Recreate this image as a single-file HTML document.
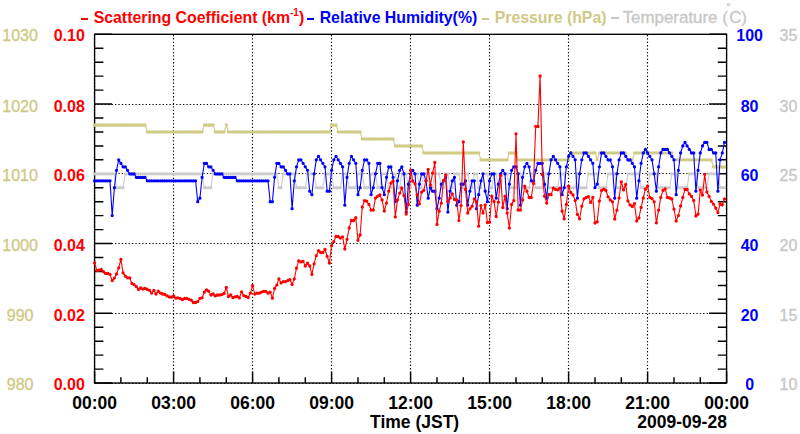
<!DOCTYPE html>
<html><head><meta charset="utf-8"><title>chart</title>
<style>
html,body{margin:0;padding:0;background:#fff;overflow:hidden;}
#c{position:relative;width:800px;height:434px;overflow:hidden;background:#fff;}
body{width:800px;height:434px;position:relative;overflow:hidden;font-family:"Liberation Sans",sans-serif;}
</style></head><body><div id="c">
<svg width="800" height="434" viewBox="0 0 800 434" style="position:absolute;left:0;top:0">
<rect x="0" y="0" width="800" height="434" fill="#fff"/>
<path d="M94.5 383V34.3M173.5 383V34.3M252.5 383V34.3M331.5 383V34.3M410.5 383V34.3M489.5 383V34.3M568.5 383V34.3M647.5 383V34.3M726.5 383V34.3M94.6 383.5H726.6M94.6 313.5H726.6M94.6 243.5H726.6M94.6 173.5H726.6M94.6 104.5H726.6M94.6 34.5H726.6" stroke="#000" stroke-width="1.15" stroke-dasharray="1.3 2.1" fill="none"/>
<rect x="94.6" y="34.3" width="632" height="348.7" fill="none" stroke="#000" stroke-width="1.35"/>
<path d="M94.6 383v-11.5M120.9 383v-5.8M147.3 383v-5.8M173.6 383v-11.5M199.9 383v-5.8M226.3 383v-5.8M252.6 383v-11.5M278.9 383v-5.8M305.3 383v-5.8M331.6 383v-11.5M358 383v-5.8M384.3 383v-5.8M410.6 383v-11.5M437 383v-5.8M463.3 383v-5.8M489.6 383v-11.5M516 383v-5.8M542.3 383v-5.8M568.6 383v-11.5M595 383v-5.8M621.3 383v-5.8M647.6 383v-11.5M674 383v-5.8M700.3 383v-5.8M726.6 383v-11.5M94.6 383h17.5M726.6 383h-17.5M94.6 369.1h8.8M726.6 369.1h-8.8M94.6 355.1h8.8M726.6 355.1h-8.8M94.6 341.2h8.8M726.6 341.2h-8.8M94.6 327.2h8.8M726.6 327.2h-8.8M94.6 313.3h17.5M726.6 313.3h-17.5M94.6 299.3h8.8M726.6 299.3h-8.8M94.6 285.4h8.8M726.6 285.4h-8.8M94.6 271.4h8.8M726.6 271.4h-8.8M94.6 257.5h8.8M726.6 257.5h-8.8M94.6 243.5h17.5M726.6 243.5h-17.5M94.6 229.6h8.8M726.6 229.6h-8.8M94.6 215.6h8.8M726.6 215.6h-8.8M94.6 201.7h8.8M726.6 201.7h-8.8M94.6 187.7h8.8M726.6 187.7h-8.8M94.6 173.8h17.5M726.6 173.8h-17.5M94.6 159.8h8.8M726.6 159.8h-8.8M94.6 145.9h8.8M726.6 145.9h-8.8M94.6 131.9h8.8M726.6 131.9h-8.8M94.6 118h8.8M726.6 118h-8.8M94.6 104h17.5M726.6 104h-17.5M94.6 90.1h8.8M726.6 90.1h-8.8M94.6 76.1h8.8M726.6 76.1h-8.8M94.6 62.2h8.8M726.6 62.2h-8.8M94.6 48.2h8.8M726.6 48.2h-8.8M94.6 34.3h17.5M726.6 34.3h-17.5" stroke="#000" stroke-width="1.45" fill="none"/>
<path d="M94.6 173.8 L96.8 173.8 L99 173.8 L101.2 173.8 L103.4 173.8 L105.6 173.8 L107.8 173.8 L110 173.8 L112.2 173.8 L114.4 173.8 L116.5 187.7 L118.7 187.7 L120.9 187.7 L123.1 187.7 L125.3 173.8 L127.5 173.8 L129.7 173.8 L131.9 173.8 L134.1 173.8 L136.3 173.8 L138.5 173.8 L140.7 173.8 L142.9 173.8 L145.1 173.8 L147.3 173.8 L149.5 173.8 L151.7 173.8 L153.9 173.8 L156 173.8 L158.2 173.8 L160.4 173.8 L162.6 173.8 L164.8 173.8 L167 173.8 L169.2 173.8 L171.4 173.8 L173.6 173.8 L175.8 173.8 L178 173.8 L180.2 173.8 L182.4 173.8 L184.6 173.8 L186.8 173.8 L189 173.8 L191.2 173.8 L193.4 173.8 L195.6 173.8 L197.7 173.8 L199.9 173.8 L202.1 173.8 L204.3 187.7 L206.5 187.7 L208.7 187.7 L210.9 187.7 L213.1 173.8 L215.3 173.8 L217.5 173.8 L219.7 173.8 L221.9 173.8 L224.1 173.8 L226.3 173.8 L228.5 173.8 L230.7 173.8 L232.9 173.8 L235.1 173.8 L237.3 173.8 L239.4 173.8 L241.6 173.8 L243.8 173.8 L246 173.8 L248.2 173.8 L250.4 173.8 L252.6 173.8 L254.8 173.8 L257 173.8 L259.2 173.8 L261.4 173.8 L263.6 173.8 L265.8 173.8 L268 173.8 L270.2 173.8 L272.4 173.8 L274.6 173.8 L276.8 173.8 L278.9 187.7 L281.1 187.7 L283.3 173.8 L285.5 173.8 L287.7 173.8 L289.9 173.8 L292.1 173.8 L294.3 173.8 L296.5 187.7 L298.7 187.7 L300.9 187.7 L303.1 187.7 L305.3 187.7 L307.5 173.8 L309.7 173.8 L311.9 173.8 L314.1 173.8 L316.3 187.7 L318.5 187.7 L320.6 187.7 L322.8 187.7 L325 173.8 L327.2 173.8 L329.4 173.8 L331.6 173.8 L333.8 187.7 L336 187.7 L338.2 187.7 L340.4 187.7 L342.6 173.8 L344.8 173.8 L347 173.8 L349.2 187.7 L351.4 187.7 L353.6 187.7 L355.8 187.7 L358 173.8 L360.1 173.8 L362.3 173.8 L364.5 187.7 L366.7 187.7 L368.9 187.7 L371.1 173.8 L373.3 173.8 L375.5 173.8 L377.7 187.7 L379.9 187.7 L382.1 173.8 L384.3 173.8 L386.5 173.8 L388.7 187.7 L390.9 187.7 L393.1 173.8 L395.3 173.8 L397.5 187.7 L399.7 187.7 L401.8 173.8 L404 173.8 L406.2 173.8 L408.4 187.7 L410.6 187.7 L412.8 173.8 L415 173.8 L417.2 173.8 L419.4 187.7 L421.6 187.7 L423.8 173.8 L426 173.8 L428.2 173.8 L430.4 187.7 L432.6 187.7 L434.8 173.8 L437 173.8 L439.2 173.8 L441.3 187.7 L443.5 187.7 L445.7 173.8 L447.9 173.8 L450.1 187.7 L452.3 187.7 L454.5 173.8 L456.7 173.8 L458.9 173.8 L461.1 187.7 L463.3 187.7 L465.5 173.8 L467.7 173.8 L469.9 187.7 L472.1 187.7 L474.3 173.8 L476.5 173.8 L478.7 187.7 L480.9 187.7 L483 173.8 L485.2 173.8 L487.4 173.8 L489.6 187.7 L491.8 187.7 L494 173.8 L496.2 173.8 L498.4 187.7 L500.6 187.7 L502.8 173.8 L505 173.8 L507.2 173.8 L509.4 187.7 L511.6 187.7 L513.8 187.7 L516 187.7 L518.2 173.8 L520.4 173.8 L522.6 187.7 L524.7 187.7 L526.9 187.7 L529.1 187.7 L531.3 173.8 L533.5 173.8 L535.7 187.7 L537.9 187.7 L540.1 187.7 L542.3 187.7 L544.5 173.8 L546.7 173.8 L548.9 187.7 L551.1 187.7 L553.3 187.7 L555.5 187.7 L557.7 187.7 L559.9 173.8 L562.1 173.8 L564.2 173.8 L566.4 187.7 L568.6 187.7 L570.8 187.7 L573 187.7 L575.2 187.7 L577.4 173.8 L579.6 187.7 L581.8 187.7 L584 187.7 L586.2 187.7 L588.4 173.8 L590.6 173.8 L592.8 173.8 L595 173.8 L597.2 173.8 L599.4 187.7 L601.6 187.7 L603.8 187.7 L605.9 187.7 L608.1 173.8 L610.3 173.8 L612.5 173.8 L614.7 173.8 L616.9 187.7 L619.1 187.7 L621.3 187.7 L623.5 187.7 L625.7 187.7 L627.9 173.8 L630.1 173.8 L632.3 173.8 L634.5 173.8 L636.7 173.8 L638.9 173.8 L641.1 187.7 L643.3 187.7 L645.4 187.7 L647.6 187.7 L649.8 173.8 L652 173.8 L654.2 173.8 L656.4 173.8 L658.6 187.7 L660.8 187.7 L663 187.7 L665.2 187.7 L667.4 187.7 L669.6 187.7 L671.8 173.8 L674 173.8 L676.2 173.8 L678.4 187.7 L680.6 187.7 L682.8 187.7 L685 187.7 L687.1 187.7 L689.3 173.8 L691.5 173.8 L693.7 173.8 L695.9 173.8 L698.1 187.7 L700.3 187.7 L702.5 187.7 L704.7 187.7 L706.9 187.7 L709.1 173.8 L711.3 173.8 L713.5 173.8 L715.7 173.8 L717.9 173.8 L720.1 187.7 L722.3 187.7 L724.5 187.7" fill="none" stroke="#cccccc" stroke-width="1.1" stroke-linejoin="round"/>
<path d="M94.6 173.8h0M96.8 173.8h0M99 173.8h0M101.2 173.8h0M103.4 173.8h0M105.6 173.8h0M107.8 173.8h0M110 173.8h0M112.2 173.8h0M114.4 173.8h0M116.5 187.7h0M118.7 187.7h0M120.9 187.7h0M123.1 187.7h0M125.3 173.8h0M127.5 173.8h0M129.7 173.8h0M131.9 173.8h0M134.1 173.8h0M136.3 173.8h0M138.5 173.8h0M140.7 173.8h0M142.9 173.8h0M145.1 173.8h0M147.3 173.8h0M149.5 173.8h0M151.7 173.8h0M153.9 173.8h0M156 173.8h0M158.2 173.8h0M160.4 173.8h0M162.6 173.8h0M164.8 173.8h0M167 173.8h0M169.2 173.8h0M171.4 173.8h0M173.6 173.8h0M175.8 173.8h0M178 173.8h0M180.2 173.8h0M182.4 173.8h0M184.6 173.8h0M186.8 173.8h0M189 173.8h0M191.2 173.8h0M193.4 173.8h0M195.6 173.8h0M197.7 173.8h0M199.9 173.8h0M202.1 173.8h0M204.3 187.7h0M206.5 187.7h0M208.7 187.7h0M210.9 187.7h0M213.1 173.8h0M215.3 173.8h0M217.5 173.8h0M219.7 173.8h0M221.9 173.8h0M224.1 173.8h0M226.3 173.8h0M228.5 173.8h0M230.7 173.8h0M232.9 173.8h0M235.1 173.8h0M237.3 173.8h0M239.4 173.8h0M241.6 173.8h0M243.8 173.8h0M246 173.8h0M248.2 173.8h0M250.4 173.8h0M252.6 173.8h0M254.8 173.8h0M257 173.8h0M259.2 173.8h0M261.4 173.8h0M263.6 173.8h0M265.8 173.8h0M268 173.8h0M270.2 173.8h0M272.4 173.8h0M274.6 173.8h0M276.8 173.8h0M278.9 187.7h0M281.1 187.7h0M283.3 173.8h0M285.5 173.8h0M287.7 173.8h0M289.9 173.8h0M292.1 173.8h0M294.3 173.8h0M296.5 187.7h0M298.7 187.7h0M300.9 187.7h0M303.1 187.7h0M305.3 187.7h0M307.5 173.8h0M309.7 173.8h0M311.9 173.8h0M314.1 173.8h0M316.3 187.7h0M318.5 187.7h0M320.6 187.7h0M322.8 187.7h0M325 173.8h0M327.2 173.8h0M329.4 173.8h0M331.6 173.8h0M333.8 187.7h0M336 187.7h0M338.2 187.7h0M340.4 187.7h0M342.6 173.8h0M344.8 173.8h0M347 173.8h0M349.2 187.7h0M351.4 187.7h0M353.6 187.7h0M355.8 187.7h0M358 173.8h0M360.1 173.8h0M362.3 173.8h0M364.5 187.7h0M366.7 187.7h0M368.9 187.7h0M371.1 173.8h0M373.3 173.8h0M375.5 173.8h0M377.7 187.7h0M379.9 187.7h0M382.1 173.8h0M384.3 173.8h0M386.5 173.8h0M388.7 187.7h0M390.9 187.7h0M393.1 173.8h0M395.3 173.8h0M397.5 187.7h0M399.7 187.7h0M401.8 173.8h0M404 173.8h0M406.2 173.8h0M408.4 187.7h0M410.6 187.7h0M412.8 173.8h0M415 173.8h0M417.2 173.8h0M419.4 187.7h0M421.6 187.7h0M423.8 173.8h0M426 173.8h0M428.2 173.8h0M430.4 187.7h0M432.6 187.7h0M434.8 173.8h0M437 173.8h0M439.2 173.8h0M441.3 187.7h0M443.5 187.7h0M445.7 173.8h0M447.9 173.8h0M450.1 187.7h0M452.3 187.7h0M454.5 173.8h0M456.7 173.8h0M458.9 173.8h0M461.1 187.7h0M463.3 187.7h0M465.5 173.8h0M467.7 173.8h0M469.9 187.7h0M472.1 187.7h0M474.3 173.8h0M476.5 173.8h0M478.7 187.7h0M480.9 187.7h0M483 173.8h0M485.2 173.8h0M487.4 173.8h0M489.6 187.7h0M491.8 187.7h0M494 173.8h0M496.2 173.8h0M498.4 187.7h0M500.6 187.7h0M502.8 173.8h0M505 173.8h0M507.2 173.8h0M509.4 187.7h0M511.6 187.7h0M513.8 187.7h0M516 187.7h0M518.2 173.8h0M520.4 173.8h0M522.6 187.7h0M524.7 187.7h0M526.9 187.7h0M529.1 187.7h0M531.3 173.8h0M533.5 173.8h0M535.7 187.7h0M537.9 187.7h0M540.1 187.7h0M542.3 187.7h0M544.5 173.8h0M546.7 173.8h0M548.9 187.7h0M551.1 187.7h0M553.3 187.7h0M555.5 187.7h0M557.7 187.7h0M559.9 173.8h0M562.1 173.8h0M564.2 173.8h0M566.4 187.7h0M568.6 187.7h0M570.8 187.7h0M573 187.7h0M575.2 187.7h0M577.4 173.8h0M579.6 187.7h0M581.8 187.7h0M584 187.7h0M586.2 187.7h0M588.4 173.8h0M590.6 173.8h0M592.8 173.8h0M595 173.8h0M597.2 173.8h0M599.4 187.7h0M601.6 187.7h0M603.8 187.7h0M605.9 187.7h0M608.1 173.8h0M610.3 173.8h0M612.5 173.8h0M614.7 173.8h0M616.9 187.7h0M619.1 187.7h0M621.3 187.7h0M623.5 187.7h0M625.7 187.7h0M627.9 173.8h0M630.1 173.8h0M632.3 173.8h0M634.5 173.8h0M636.7 173.8h0M638.9 173.8h0M641.1 187.7h0M643.3 187.7h0M645.4 187.7h0M647.6 187.7h0M649.8 173.8h0M652 173.8h0M654.2 173.8h0M656.4 173.8h0M658.6 187.7h0M660.8 187.7h0M663 187.7h0M665.2 187.7h0M667.4 187.7h0M669.6 187.7h0M671.8 173.8h0M674 173.8h0M676.2 173.8h0M678.4 187.7h0M680.6 187.7h0M682.8 187.7h0M685 187.7h0M687.1 187.7h0M689.3 173.8h0M691.5 173.8h0M693.7 173.8h0M695.9 173.8h0M698.1 187.7h0M700.3 187.7h0M702.5 187.7h0M704.7 187.7h0M706.9 187.7h0M709.1 173.8h0M711.3 173.8h0M713.5 173.8h0M715.7 173.8h0M717.9 173.8h0M720.1 187.7h0M722.3 187.7h0M724.5 187.7h0" fill="none" stroke="#cccccc" stroke-width="3.3" stroke-linecap="round"/>

<path d="M94.6 125 L96.8 125 L99 125 L101.2 125 L103.4 125 L105.6 125 L107.8 125 L110 125 L112.2 125 L114.4 125 L116.5 125 L118.7 125 L120.9 125 L123.1 125 L125.3 125 L127.5 125 L129.7 125 L131.9 125 L134.1 125 L136.3 125 L138.5 125 L140.7 125 L142.9 125 L145.1 125 L147.3 131.9 L149.5 131.9 L151.7 131.9 L153.9 131.9 L156 131.9 L158.2 131.9 L160.4 131.9 L162.6 131.9 L164.8 131.9 L167 131.9 L169.2 131.9 L171.4 131.9 L173.6 131.9 L175.8 131.9 L178 131.9 L180.2 131.9 L182.4 131.9 L184.6 131.9 L186.8 131.9 L189 131.9 L191.2 131.9 L193.4 131.9 L195.6 131.9 L197.7 131.9 L199.9 131.9 L202.1 131.9 L204.3 125 L206.5 125 L208.7 125 L210.9 125 L213.1 125 L215.3 131.9 L217.5 131.9 L219.7 131.9 L221.9 131.9 L224.1 131.9 L226.3 125 L228.5 131.9 L230.7 131.9 L232.9 131.9 L235.1 131.9 L237.3 131.9 L239.4 131.9 L241.6 131.9 L243.8 131.9 L246 131.9 L248.2 131.9 L250.4 131.9 L252.6 131.9 L254.8 131.9 L257 131.9 L259.2 131.9 L261.4 131.9 L263.6 131.9 L265.8 131.9 L268 131.9 L270.2 131.9 L272.4 131.9 L274.6 131.9 L276.8 131.9 L278.9 131.9 L281.1 131.9 L283.3 131.9 L285.5 131.9 L287.7 131.9 L289.9 131.9 L292.1 131.9 L294.3 131.9 L296.5 131.9 L298.7 131.9 L300.9 131.9 L303.1 131.9 L305.3 131.9 L307.5 131.9 L309.7 131.9 L311.9 131.9 L314.1 131.9 L316.3 131.9 L318.5 131.9 L320.6 131.9 L322.8 131.9 L325 131.9 L327.2 131.9 L329.4 131.9 L331.6 125 L333.8 125 L336 125 L338.2 131.9 L340.4 131.9 L342.6 131.9 L344.8 131.9 L347 131.9 L349.2 131.9 L351.4 131.9 L353.6 131.9 L355.8 131.9 L358 131.9 L360.1 131.9 L362.3 138.9 L364.5 138.9 L366.7 138.9 L368.9 138.9 L371.1 138.9 L373.3 138.9 L375.5 138.9 L377.7 138.9 L379.9 138.9 L382.1 138.9 L384.3 138.9 L386.5 138.9 L388.7 138.9 L390.9 138.9 L393.1 138.9 L395.3 145.9 L397.5 145.9 L399.7 145.9 L401.8 145.9 L404 145.9 L406.2 145.9 L408.4 145.9 L410.6 145.9 L412.8 145.9 L415 145.9 L417.2 145.9 L419.4 145.9 L421.6 145.9 L423.8 152.9 L426 152.9 L428.2 152.9 L430.4 152.9 L432.6 152.9 L434.8 152.9 L437 152.9 L439.2 152.9 L441.3 152.9 L443.5 152.9 L445.7 152.9 L447.9 152.9 L450.1 152.9 L452.3 152.9 L454.5 152.9 L456.7 152.9 L458.9 152.9 L461.1 152.9 L463.3 152.9 L465.5 152.9 L467.7 152.9 L469.9 152.9 L472.1 152.9 L474.3 152.9 L476.5 152.9 L478.7 152.9 L480.9 159.8 L483 159.8 L485.2 159.8 L487.4 159.8 L489.6 159.8 L491.8 159.8 L494 159.8 L496.2 159.8 L498.4 159.8 L500.6 159.8 L502.8 159.8 L505 159.8 L507.2 159.8 L509.4 152.9 L511.6 152.9 L513.8 152.9 L516 152.9 L518.2 159.8 L520.4 159.8 L522.6 159.8 L524.7 159.8 L526.9 159.8 L529.1 159.8 L531.3 159.8 L533.5 159.8 L535.7 159.8 L537.9 159.8 L540.1 159.8 L542.3 159.8 L544.5 159.8 L546.7 159.8 L548.9 159.8 L551.1 159.8 L553.3 159.8 L555.5 159.8 L557.7 159.8 L559.9 159.8 L562.1 159.8 L564.2 159.8 L566.4 159.8 L568.6 159.8 L570.8 152.9 L573 152.9 L575.2 152.9 L577.4 152.9 L579.6 152.9 L581.8 152.9 L584 152.9 L586.2 152.9 L588.4 152.9 L590.6 152.9 L592.8 152.9 L595 152.9 L597.2 159.8 L599.4 152.9 L601.6 152.9 L603.8 152.9 L605.9 152.9 L608.1 152.9 L610.3 152.9 L612.5 152.9 L614.7 152.9 L616.9 152.9 L619.1 152.9 L621.3 152.9 L623.5 152.9 L625.7 152.9 L627.9 159.8 L630.1 159.8 L632.3 159.8 L634.5 152.9 L636.7 152.9 L638.9 152.9 L641.1 152.9 L643.3 152.9 L645.4 152.9 L647.6 152.9 L649.8 152.9 L652 152.9 L654.2 152.9 L656.4 152.9 L658.6 152.9 L660.8 152.9 L663 152.9 L665.2 152.9 L667.4 152.9 L669.6 152.9 L671.8 152.9 L674 159.8 L676.2 159.8 L678.4 159.8 L680.6 159.8 L682.8 159.8 L685 159.8 L687.1 159.8 L689.3 159.8 L691.5 159.8 L693.7 159.8 L695.9 159.8 L698.1 159.8 L700.3 159.8 L702.5 159.8 L704.7 159.8 L706.9 159.8 L709.1 159.8 L711.3 159.8 L713.5 166.8 L715.7 166.8 L717.9 166.8 L720.1 166.8 L722.3 166.8 L724.5 166.8" fill="none" stroke="#d1cc85" stroke-width="1.1" stroke-linejoin="round"/>
<path d="M94.6 125h0M96.8 125h0M99 125h0M101.2 125h0M103.4 125h0M105.6 125h0M107.8 125h0M110 125h0M112.2 125h0M114.4 125h0M116.5 125h0M118.7 125h0M120.9 125h0M123.1 125h0M125.3 125h0M127.5 125h0M129.7 125h0M131.9 125h0M134.1 125h0M136.3 125h0M138.5 125h0M140.7 125h0M142.9 125h0M145.1 125h0M147.3 131.9h0M149.5 131.9h0M151.7 131.9h0M153.9 131.9h0M156 131.9h0M158.2 131.9h0M160.4 131.9h0M162.6 131.9h0M164.8 131.9h0M167 131.9h0M169.2 131.9h0M171.4 131.9h0M173.6 131.9h0M175.8 131.9h0M178 131.9h0M180.2 131.9h0M182.4 131.9h0M184.6 131.9h0M186.8 131.9h0M189 131.9h0M191.2 131.9h0M193.4 131.9h0M195.6 131.9h0M197.7 131.9h0M199.9 131.9h0M202.1 131.9h0M204.3 125h0M206.5 125h0M208.7 125h0M210.9 125h0M213.1 125h0M215.3 131.9h0M217.5 131.9h0M219.7 131.9h0M221.9 131.9h0M224.1 131.9h0M226.3 125h0M228.5 131.9h0M230.7 131.9h0M232.9 131.9h0M235.1 131.9h0M237.3 131.9h0M239.4 131.9h0M241.6 131.9h0M243.8 131.9h0M246 131.9h0M248.2 131.9h0M250.4 131.9h0M252.6 131.9h0M254.8 131.9h0M257 131.9h0M259.2 131.9h0M261.4 131.9h0M263.6 131.9h0M265.8 131.9h0M268 131.9h0M270.2 131.9h0M272.4 131.9h0M274.6 131.9h0M276.8 131.9h0M278.9 131.9h0M281.1 131.9h0M283.3 131.9h0M285.5 131.9h0M287.7 131.9h0M289.9 131.9h0M292.1 131.9h0M294.3 131.9h0M296.5 131.9h0M298.7 131.9h0M300.9 131.9h0M303.1 131.9h0M305.3 131.9h0M307.5 131.9h0M309.7 131.9h0M311.9 131.9h0M314.1 131.9h0M316.3 131.9h0M318.5 131.9h0M320.6 131.9h0M322.8 131.9h0M325 131.9h0M327.2 131.9h0M329.4 131.9h0M331.6 125h0M333.8 125h0M336 125h0M338.2 131.9h0M340.4 131.9h0M342.6 131.9h0M344.8 131.9h0M347 131.9h0M349.2 131.9h0M351.4 131.9h0M353.6 131.9h0M355.8 131.9h0M358 131.9h0M360.1 131.9h0M362.3 138.9h0M364.5 138.9h0M366.7 138.9h0M368.9 138.9h0M371.1 138.9h0M373.3 138.9h0M375.5 138.9h0M377.7 138.9h0M379.9 138.9h0M382.1 138.9h0M384.3 138.9h0M386.5 138.9h0M388.7 138.9h0M390.9 138.9h0M393.1 138.9h0M395.3 145.9h0M397.5 145.9h0M399.7 145.9h0M401.8 145.9h0M404 145.9h0M406.2 145.9h0M408.4 145.9h0M410.6 145.9h0M412.8 145.9h0M415 145.9h0M417.2 145.9h0M419.4 145.9h0M421.6 145.9h0M423.8 152.9h0M426 152.9h0M428.2 152.9h0M430.4 152.9h0M432.6 152.9h0M434.8 152.9h0M437 152.9h0M439.2 152.9h0M441.3 152.9h0M443.5 152.9h0M445.7 152.9h0M447.9 152.9h0M450.1 152.9h0M452.3 152.9h0M454.5 152.9h0M456.7 152.9h0M458.9 152.9h0M461.1 152.9h0M463.3 152.9h0M465.5 152.9h0M467.7 152.9h0M469.9 152.9h0M472.1 152.9h0M474.3 152.9h0M476.5 152.9h0M478.7 152.9h0M480.9 159.8h0M483 159.8h0M485.2 159.8h0M487.4 159.8h0M489.6 159.8h0M491.8 159.8h0M494 159.8h0M496.2 159.8h0M498.4 159.8h0M500.6 159.8h0M502.8 159.8h0M505 159.8h0M507.2 159.8h0M509.4 152.9h0M511.6 152.9h0M513.8 152.9h0M516 152.9h0M518.2 159.8h0M520.4 159.8h0M522.6 159.8h0M524.7 159.8h0M526.9 159.8h0M529.1 159.8h0M531.3 159.8h0M533.5 159.8h0M535.7 159.8h0M537.9 159.8h0M540.1 159.8h0M542.3 159.8h0M544.5 159.8h0M546.7 159.8h0M548.9 159.8h0M551.1 159.8h0M553.3 159.8h0M555.5 159.8h0M557.7 159.8h0M559.9 159.8h0M562.1 159.8h0M564.2 159.8h0M566.4 159.8h0M568.6 159.8h0M570.8 152.9h0M573 152.9h0M575.2 152.9h0M577.4 152.9h0M579.6 152.9h0M581.8 152.9h0M584 152.9h0M586.2 152.9h0M588.4 152.9h0M590.6 152.9h0M592.8 152.9h0M595 152.9h0M597.2 159.8h0M599.4 152.9h0M601.6 152.9h0M603.8 152.9h0M605.9 152.9h0M608.1 152.9h0M610.3 152.9h0M612.5 152.9h0M614.7 152.9h0M616.9 152.9h0M619.1 152.9h0M621.3 152.9h0M623.5 152.9h0M625.7 152.9h0M627.9 159.8h0M630.1 159.8h0M632.3 159.8h0M634.5 152.9h0M636.7 152.9h0M638.9 152.9h0M641.1 152.9h0M643.3 152.9h0M645.4 152.9h0M647.6 152.9h0M649.8 152.9h0M652 152.9h0M654.2 152.9h0M656.4 152.9h0M658.6 152.9h0M660.8 152.9h0M663 152.9h0M665.2 152.9h0M667.4 152.9h0M669.6 152.9h0M671.8 152.9h0M674 159.8h0M676.2 159.8h0M678.4 159.8h0M680.6 159.8h0M682.8 159.8h0M685 159.8h0M687.1 159.8h0M689.3 159.8h0M691.5 159.8h0M693.7 159.8h0M695.9 159.8h0M698.1 159.8h0M700.3 159.8h0M702.5 159.8h0M704.7 159.8h0M706.9 159.8h0M709.1 159.8h0M711.3 159.8h0M713.5 166.8h0M715.7 166.8h0M717.9 166.8h0M720.1 166.8h0M722.3 166.8h0M724.5 166.8h0" fill="none" stroke="#d1cc85" stroke-width="3.3" stroke-linecap="round"/>

<path d="M94.6 180.8 L96.8 180.8 L99 180.8 L101.2 180.8 L103.4 180.8 L105.6 180.8 L107.8 180.8 L110 180.8 L112.2 215.6 L114.4 187.7 L116.5 170.3 L118.7 159.8 L120.9 163.3 L123.1 166.8 L125.3 166.8 L127.5 170.3 L129.7 173.8 L131.9 173.8 L134.1 173.8 L136.3 177.3 L138.5 177.3 L140.7 177.3 L142.9 177.3 L145.1 177.3 L147.3 180.8 L149.5 180.8 L151.7 180.8 L153.9 180.8 L156 180.8 L158.2 180.8 L160.4 180.8 L162.6 180.8 L164.8 180.8 L167 180.8 L169.2 180.8 L171.4 180.8 L173.6 180.8 L175.8 180.8 L178 180.8 L180.2 180.8 L182.4 180.8 L184.6 180.8 L186.8 180.8 L189 180.8 L191.2 180.8 L193.4 180.8 L195.6 180.8 L197.7 201.7 L199.9 198.2 L202.1 177.3 L204.3 163.3 L206.5 163.3 L208.7 166.8 L210.9 166.8 L213.1 170.3 L215.3 173.8 L217.5 173.8 L219.7 173.8 L221.9 173.8 L224.1 177.3 L226.3 177.3 L228.5 177.3 L230.7 177.3 L232.9 177.3 L235.1 177.3 L237.3 180.8 L239.4 180.8 L241.6 180.8 L243.8 180.8 L246 180.8 L248.2 180.8 L250.4 180.8 L252.6 180.8 L254.8 180.8 L257 180.8 L259.2 180.8 L261.4 180.8 L263.6 180.8 L265.8 180.8 L268 180.8 L270.2 201.7 L272.4 201.7 L274.6 177.3 L276.8 163.3 L278.9 163.3 L281.1 166.8 L283.3 166.8 L285.5 170.3 L287.7 173.8 L289.9 173.8 L292.1 208.7 L294.3 180.8 L296.5 166.8 L298.7 159.8 L300.9 159.8 L303.1 163.3 L305.3 166.8 L307.5 170.3 L309.7 191.2 L311.9 194.7 L314.1 173.8 L316.3 159.8 L318.5 156.3 L320.6 159.8 L322.8 163.3 L325 166.8 L327.2 191.2 L329.4 191.2 L331.6 170.3 L333.8 159.8 L336 156.3 L338.2 159.8 L340.4 163.3 L342.6 166.8 L344.8 205.2 L347 177.3 L349.2 163.3 L351.4 156.3 L353.6 159.8 L355.8 163.3 L358 194.7 L360.1 187.7 L362.3 170.3 L364.5 159.8 L366.7 159.8 L368.9 163.3 L371.1 194.7 L373.3 187.7 L375.5 173.8 L377.7 163.3 L379.9 163.3 L382.1 187.7 L384.3 194.7 L386.5 177.3 L388.7 166.8 L390.9 166.8 L393.1 177.3 L395.3 201.7 L397.5 180.8 L399.7 170.3 L401.8 166.8 L404 173.8 L406.2 212.1 L408.4 184.2 L410.6 173.8 L412.8 170.3 L415 173.8 L417.2 205.2 L419.4 184.2 L421.6 173.8 L423.8 173.8 L426 180.8 L428.2 198.2 L430.4 187.7 L432.6 191.2 L434.8 191.2 L437 208.7 L439.2 198.2 L441.3 184.2 L443.5 180.8 L445.7 177.3 L447.9 212.1 L450.1 191.2 L452.3 180.8 L454.5 177.3 L456.7 205.2 L458.9 201.7 L461.1 184.2 L463.3 184.2 L465.5 180.8 L467.7 205.2 L469.9 191.2 L472.1 180.8 L474.3 180.8 L476.5 208.7 L478.7 194.7 L480.9 180.8 L483 173.8 L485.2 191.2 L487.4 201.7 L489.6 180.8 L491.8 173.8 L494 173.8 L496.2 198.2 L498.4 184.2 L500.6 173.8 L502.8 170.3 L505 173.8 L507.2 208.7 L509.4 184.2 L511.6 170.3 L513.8 166.8 L516 166.8 L518.2 173.8 L520.4 205.2 L522.6 177.3 L524.7 166.8 L526.9 163.3 L529.1 166.8 L531.3 180.8 L533.5 180.8 L535.7 170.3 L537.9 163.3 L540.1 163.3 L542.3 163.3 L544.5 184.2 L546.7 198.2 L548.9 173.8 L551.1 159.8 L553.3 156.3 L555.5 159.8 L557.7 163.3 L559.9 166.8 L562.1 194.7 L564.2 187.7 L566.4 166.8 L568.6 156.3 L570.8 152.9 L573 156.3 L575.2 159.8 L577.4 198.2 L579.6 173.8 L581.8 159.8 L584 152.9 L586.2 152.9 L588.4 156.3 L590.6 159.8 L592.8 163.3 L595 187.7 L597.2 184.2 L599.4 166.8 L601.6 152.9 L603.8 152.9 L605.9 156.3 L608.1 159.8 L610.3 159.8 L612.5 166.8 L614.7 198.2 L616.9 173.8 L619.1 159.8 L621.3 152.9 L623.5 152.9 L625.7 156.3 L627.9 159.8 L630.1 159.8 L632.3 163.3 L634.5 166.8 L636.7 198.2 L638.9 180.8 L641.1 163.3 L643.3 152.9 L645.4 149.4 L647.6 152.9 L649.8 156.3 L652 159.8 L654.2 173.8 L656.4 191.2 L658.6 166.8 L660.8 152.9 L663 149.4 L665.2 149.4 L667.4 149.4 L669.6 152.9 L671.8 156.3 L674 159.8 L676.2 194.7 L678.4 170.3 L680.6 152.9 L682.8 145.9 L685 142.4 L687.1 145.9 L689.3 149.4 L691.5 152.9 L693.7 152.9 L695.9 191.2 L698.1 170.3 L700.3 152.9 L702.5 145.9 L704.7 142.4 L706.9 142.4 L709.1 149.4 L711.3 149.4 L713.5 152.9 L715.7 152.9 L717.9 191.2 L720.1 159.8 L722.3 152.9 L724.5 142.4" fill="none" stroke="#0000ff" stroke-width="1.1" stroke-linejoin="round"/>
<path d="M94.6 180.8h0M96.8 180.8h0M99 180.8h0M101.2 180.8h0M103.4 180.8h0M105.6 180.8h0M107.8 180.8h0M110 180.8h0M112.2 215.6h0M114.4 187.7h0M116.5 170.3h0M118.7 159.8h0M120.9 163.3h0M123.1 166.8h0M125.3 166.8h0M127.5 170.3h0M129.7 173.8h0M131.9 173.8h0M134.1 173.8h0M136.3 177.3h0M138.5 177.3h0M140.7 177.3h0M142.9 177.3h0M145.1 177.3h0M147.3 180.8h0M149.5 180.8h0M151.7 180.8h0M153.9 180.8h0M156 180.8h0M158.2 180.8h0M160.4 180.8h0M162.6 180.8h0M164.8 180.8h0M167 180.8h0M169.2 180.8h0M171.4 180.8h0M173.6 180.8h0M175.8 180.8h0M178 180.8h0M180.2 180.8h0M182.4 180.8h0M184.6 180.8h0M186.8 180.8h0M189 180.8h0M191.2 180.8h0M193.4 180.8h0M195.6 180.8h0M197.7 201.7h0M199.9 198.2h0M202.1 177.3h0M204.3 163.3h0M206.5 163.3h0M208.7 166.8h0M210.9 166.8h0M213.1 170.3h0M215.3 173.8h0M217.5 173.8h0M219.7 173.8h0M221.9 173.8h0M224.1 177.3h0M226.3 177.3h0M228.5 177.3h0M230.7 177.3h0M232.9 177.3h0M235.1 177.3h0M237.3 180.8h0M239.4 180.8h0M241.6 180.8h0M243.8 180.8h0M246 180.8h0M248.2 180.8h0M250.4 180.8h0M252.6 180.8h0M254.8 180.8h0M257 180.8h0M259.2 180.8h0M261.4 180.8h0M263.6 180.8h0M265.8 180.8h0M268 180.8h0M270.2 201.7h0M272.4 201.7h0M274.6 177.3h0M276.8 163.3h0M278.9 163.3h0M281.1 166.8h0M283.3 166.8h0M285.5 170.3h0M287.7 173.8h0M289.9 173.8h0M292.1 208.7h0M294.3 180.8h0M296.5 166.8h0M298.7 159.8h0M300.9 159.8h0M303.1 163.3h0M305.3 166.8h0M307.5 170.3h0M309.7 191.2h0M311.9 194.7h0M314.1 173.8h0M316.3 159.8h0M318.5 156.3h0M320.6 159.8h0M322.8 163.3h0M325 166.8h0M327.2 191.2h0M329.4 191.2h0M331.6 170.3h0M333.8 159.8h0M336 156.3h0M338.2 159.8h0M340.4 163.3h0M342.6 166.8h0M344.8 205.2h0M347 177.3h0M349.2 163.3h0M351.4 156.3h0M353.6 159.8h0M355.8 163.3h0M358 194.7h0M360.1 187.7h0M362.3 170.3h0M364.5 159.8h0M366.7 159.8h0M368.9 163.3h0M371.1 194.7h0M373.3 187.7h0M375.5 173.8h0M377.7 163.3h0M379.9 163.3h0M382.1 187.7h0M384.3 194.7h0M386.5 177.3h0M388.7 166.8h0M390.9 166.8h0M393.1 177.3h0M395.3 201.7h0M397.5 180.8h0M399.7 170.3h0M401.8 166.8h0M404 173.8h0M406.2 212.1h0M408.4 184.2h0M410.6 173.8h0M412.8 170.3h0M415 173.8h0M417.2 205.2h0M419.4 184.2h0M421.6 173.8h0M423.8 173.8h0M426 180.8h0M428.2 198.2h0M430.4 187.7h0M432.6 191.2h0M434.8 191.2h0M437 208.7h0M439.2 198.2h0M441.3 184.2h0M443.5 180.8h0M445.7 177.3h0M447.9 212.1h0M450.1 191.2h0M452.3 180.8h0M454.5 177.3h0M456.7 205.2h0M458.9 201.7h0M461.1 184.2h0M463.3 184.2h0M465.5 180.8h0M467.7 205.2h0M469.9 191.2h0M472.1 180.8h0M474.3 180.8h0M476.5 208.7h0M478.7 194.7h0M480.9 180.8h0M483 173.8h0M485.2 191.2h0M487.4 201.7h0M489.6 180.8h0M491.8 173.8h0M494 173.8h0M496.2 198.2h0M498.4 184.2h0M500.6 173.8h0M502.8 170.3h0M505 173.8h0M507.2 208.7h0M509.4 184.2h0M511.6 170.3h0M513.8 166.8h0M516 166.8h0M518.2 173.8h0M520.4 205.2h0M522.6 177.3h0M524.7 166.8h0M526.9 163.3h0M529.1 166.8h0M531.3 180.8h0M533.5 180.8h0M535.7 170.3h0M537.9 163.3h0M540.1 163.3h0M542.3 163.3h0M544.5 184.2h0M546.7 198.2h0M548.9 173.8h0M551.1 159.8h0M553.3 156.3h0M555.5 159.8h0M557.7 163.3h0M559.9 166.8h0M562.1 194.7h0M564.2 187.7h0M566.4 166.8h0M568.6 156.3h0M570.8 152.9h0M573 156.3h0M575.2 159.8h0M577.4 198.2h0M579.6 173.8h0M581.8 159.8h0M584 152.9h0M586.2 152.9h0M588.4 156.3h0M590.6 159.8h0M592.8 163.3h0M595 187.7h0M597.2 184.2h0M599.4 166.8h0M601.6 152.9h0M603.8 152.9h0M605.9 156.3h0M608.1 159.8h0M610.3 159.8h0M612.5 166.8h0M614.7 198.2h0M616.9 173.8h0M619.1 159.8h0M621.3 152.9h0M623.5 152.9h0M625.7 156.3h0M627.9 159.8h0M630.1 159.8h0M632.3 163.3h0M634.5 166.8h0M636.7 198.2h0M638.9 180.8h0M641.1 163.3h0M643.3 152.9h0M645.4 149.4h0M647.6 152.9h0M649.8 156.3h0M652 159.8h0M654.2 173.8h0M656.4 191.2h0M658.6 166.8h0M660.8 152.9h0M663 149.4h0M665.2 149.4h0M667.4 149.4h0M669.6 152.9h0M671.8 156.3h0M674 159.8h0M676.2 194.7h0M678.4 170.3h0M680.6 152.9h0M682.8 145.9h0M685 142.4h0M687.1 145.9h0M689.3 149.4h0M691.5 152.9h0M693.7 152.9h0M695.9 191.2h0M698.1 170.3h0M700.3 152.9h0M702.5 145.9h0M704.7 142.4h0M706.9 142.4h0M709.1 149.4h0M711.3 149.4h0M713.5 152.9h0M715.7 152.9h0M717.9 191.2h0M720.1 159.8h0M722.3 152.9h0M724.5 142.4h0" fill="none" stroke="#0000ff" stroke-width="3.3" stroke-linecap="round"/>

<path d="M94.6 262.8 L96.8 270.6 L99 270.2 L101.2 269.3 L103.4 271.6 L105.6 273.4 L107.8 273.4 L110 274.4 L112.2 280.6 L114.4 278.1 L116.5 274 L118.7 267.8 L120.9 259.4 L123.1 272.9 L125.3 276.2 L127.5 277.8 L129.7 277.8 L131.9 283.4 L134.1 284.7 L136.3 286.6 L138.5 289.4 L140.7 288 L142.9 289 L145.1 288.4 L147.3 289.4 L149.5 290.3 L151.7 293.1 L153.9 290.3 L156 294 L158.2 291.2 L160.4 293.1 L162.6 294 L164.8 294.4 L167 295.9 L169.2 296.9 L171.4 297.2 L173.6 295.9 L175.8 298.2 L178 297.8 L180.2 298.4 L182.4 299.7 L184.6 298.4 L186.8 298.4 L189 299.3 L191.2 300.2 L193.4 302.5 L195.6 302.5 L197.7 301.6 L199.9 298.4 L202.1 297.8 L204.3 292.2 L206.5 289.9 L208.7 291.2 L210.9 295 L213.1 294 L215.3 295.9 L217.5 295 L219.7 295 L221.9 294.6 L224.1 293.5 L226.3 287.5 L228.5 296.5 L230.7 295 L232.9 297.5 L235.1 296.9 L237.3 296.4 L239.4 297.9 L241.6 291.9 L243.8 295.6 L246 296.4 L248.2 297.5 L250.4 293.2 L252.6 285.7 L254.8 294.1 L257 293.2 L259.2 293.2 L261.4 292.2 L263.6 291.3 L265.8 291.3 L268 293.2 L270.2 292.2 L272.4 298.2 L274.6 288.5 L276.8 285.1 L278.9 278.8 L281.1 282.9 L283.3 281.6 L285.5 281.6 L287.7 280.6 L289.9 279.7 L292.1 284.4 L294.3 278.8 L296.5 268.2 L298.7 260.8 L300.9 261.9 L303.1 261.3 L305.3 266 L307.5 263.2 L309.7 266 L311.9 274.4 L314.1 263.8 L316.3 255.7 L318.5 250.6 L320.6 252.5 L322.8 252.5 L325 249.5 L327.2 256.3 L329.4 263 L331.6 245.6 L333.8 241.6 L336 236.5 L338.2 236.5 L340.4 238.1 L342.6 236.8 L344.8 249 L347 239.3 L349.2 227.9 L351.4 220.5 L353.6 220.5 L355.8 217.7 L358 240.3 L360.1 235 L362.3 207 L364.5 200.6 L366.7 201.2 L368.9 204.4 L371.1 210.2 L373.3 210 L375.5 198.1 L377.7 196.2 L379.9 195 L382.1 200 L384.3 211 L386.5 203.1 L388.7 191.2 L390.9 183.1 L393.1 181.2 L395.3 216.9 L397.5 200 L399.7 193.1 L401.8 188 L404 195.6 L406.2 214 L408.4 204.4 L410.6 170.3 L412.8 181 L415 183.8 L417.2 195 L419.4 203.8 L421.6 192.2 L423.8 190.3 L426 180.6 L428.2 169.4 L430.4 185 L432.6 173.1 L434.8 162.5 L437 224.4 L439.2 211.2 L441.3 203.1 L443.5 180.6 L445.7 175 L447.9 201.5 L450.1 198.1 L452.3 193.8 L454.5 199.4 L456.7 200 L458.9 220.6 L461.1 205.6 L463.3 142 L465.5 189.4 L467.7 213.1 L469.9 208.8 L472.1 206.2 L474.3 198.8 L476.5 201.9 L478.7 226.2 L480.9 205.6 L483 213.1 L485.2 205 L487.4 222.5 L489.6 222.2 L491.8 196.2 L494 201.5 L496.2 216.5 L498.4 202.2 L500.6 175.6 L502.8 207.5 L505 196.2 L507.2 213.1 L509.4 228.1 L511.6 204.4 L513.8 200.6 L516 133.8 L518.2 210 L520.4 210 L522.6 200 L524.7 186.2 L526.9 191.2 L529.1 197.5 L531.3 197.5 L533.5 183.5 L535.7 126.5 L537.9 126.5 L540.1 76 L542.3 174.4 L544.5 196.2 L546.7 203.1 L548.9 194.4 L551.1 194.7 L553.3 188.1 L555.5 189.4 L557.7 189.8 L559.9 188.1 L562.1 211.2 L564.2 218.8 L566.4 204.4 L568.6 186.2 L570.8 192.5 L573 194.9 L575.2 200.6 L577.4 214.4 L579.6 218.8 L581.8 206.2 L584 198.8 L586.2 197.5 L588.4 196.6 L590.6 202.4 L592.8 197.4 L595 223 L597.2 221.8 L599.4 201.1 L601.6 190.5 L603.8 189.2 L605.9 190.5 L608.1 196.8 L610.3 199.9 L612.5 201.8 L614.7 219 L616.9 210.2 L619.1 198 L621.3 181.8 L623.5 189.9 L625.7 184.5 L627.9 200.9 L630.1 204.9 L632.3 206.5 L634.5 203.6 L636.7 221.1 L638.9 218 L641.1 207.4 L643.3 198 L645.4 189.2 L647.6 186.1 L649.8 197.4 L652 198.6 L654.2 201.8 L656.4 222.8 L658.6 210.2 L660.8 197.4 L663 190.5 L665.2 188.8 L667.4 197.4 L669.6 198 L671.8 199 L674 209.2 L676.2 221 L678.4 215.6 L680.6 205.9 L682.8 197.5 L685 189.4 L687.1 189.5 L689.3 193.9 L691.5 196.4 L693.7 200.5 L695.9 216 L698.1 214.1 L700.3 190.1 L702.5 195.1 L704.7 174.3 L706.9 192 L709.1 196.4 L711.3 201.4 L713.5 204.2 L715.7 208 L717.9 212.6 L720.1 204.2 L722.3 204.8 L724.5 198.9" fill="none" stroke="#ff0000" stroke-width="1.1" stroke-linejoin="round"/>
<path d="M94.6 262.8h0M96.8 270.6h0M99 270.2h0M101.2 269.3h0M103.4 271.6h0M105.6 273.4h0M107.8 273.4h0M110 274.4h0M112.2 280.6h0M114.4 278.1h0M116.5 274h0M118.7 267.8h0M120.9 259.4h0M123.1 272.9h0M125.3 276.2h0M127.5 277.8h0M129.7 277.8h0M131.9 283.4h0M134.1 284.7h0M136.3 286.6h0M138.5 289.4h0M140.7 288h0M142.9 289h0M145.1 288.4h0M147.3 289.4h0M149.5 290.3h0M151.7 293.1h0M153.9 290.3h0M156 294h0M158.2 291.2h0M160.4 293.1h0M162.6 294h0M164.8 294.4h0M167 295.9h0M169.2 296.9h0M171.4 297.2h0M173.6 295.9h0M175.8 298.2h0M178 297.8h0M180.2 298.4h0M182.4 299.7h0M184.6 298.4h0M186.8 298.4h0M189 299.3h0M191.2 300.2h0M193.4 302.5h0M195.6 302.5h0M197.7 301.6h0M199.9 298.4h0M202.1 297.8h0M204.3 292.2h0M206.5 289.9h0M208.7 291.2h0M210.9 295h0M213.1 294h0M215.3 295.9h0M217.5 295h0M219.7 295h0M221.9 294.6h0M224.1 293.5h0M226.3 287.5h0M228.5 296.5h0M230.7 295h0M232.9 297.5h0M235.1 296.9h0M237.3 296.4h0M239.4 297.9h0M241.6 291.9h0M243.8 295.6h0M246 296.4h0M248.2 297.5h0M250.4 293.2h0M252.6 285.7h0M254.8 294.1h0M257 293.2h0M259.2 293.2h0M261.4 292.2h0M263.6 291.3h0M265.8 291.3h0M268 293.2h0M270.2 292.2h0M272.4 298.2h0M274.6 288.5h0M276.8 285.1h0M278.9 278.8h0M281.1 282.9h0M283.3 281.6h0M285.5 281.6h0M287.7 280.6h0M289.9 279.7h0M292.1 284.4h0M294.3 278.8h0M296.5 268.2h0M298.7 260.8h0M300.9 261.9h0M303.1 261.3h0M305.3 266h0M307.5 263.2h0M309.7 266h0M311.9 274.4h0M314.1 263.8h0M316.3 255.7h0M318.5 250.6h0M320.6 252.5h0M322.8 252.5h0M325 249.5h0M327.2 256.3h0M329.4 263h0M331.6 245.6h0M333.8 241.6h0M336 236.5h0M338.2 236.5h0M340.4 238.1h0M342.6 236.8h0M344.8 249h0M347 239.3h0M349.2 227.9h0M351.4 220.5h0M353.6 220.5h0M355.8 217.7h0M358 240.3h0M360.1 235h0M362.3 207h0M364.5 200.6h0M366.7 201.2h0M368.9 204.4h0M371.1 210.2h0M373.3 210h0M375.5 198.1h0M377.7 196.2h0M379.9 195h0M382.1 200h0M384.3 211h0M386.5 203.1h0M388.7 191.2h0M390.9 183.1h0M393.1 181.2h0M395.3 216.9h0M397.5 200h0M399.7 193.1h0M401.8 188h0M404 195.6h0M406.2 214h0M408.4 204.4h0M410.6 170.3h0M412.8 181h0M415 183.8h0M417.2 195h0M419.4 203.8h0M421.6 192.2h0M423.8 190.3h0M426 180.6h0M428.2 169.4h0M430.4 185h0M432.6 173.1h0M434.8 162.5h0M437 224.4h0M439.2 211.2h0M441.3 203.1h0M443.5 180.6h0M445.7 175h0M447.9 201.5h0M450.1 198.1h0M452.3 193.8h0M454.5 199.4h0M456.7 200h0M458.9 220.6h0M461.1 205.6h0M463.3 142h0M465.5 189.4h0M467.7 213.1h0M469.9 208.8h0M472.1 206.2h0M474.3 198.8h0M476.5 201.9h0M478.7 226.2h0M480.9 205.6h0M483 213.1h0M485.2 205h0M487.4 222.5h0M489.6 222.2h0M491.8 196.2h0M494 201.5h0M496.2 216.5h0M498.4 202.2h0M500.6 175.6h0M502.8 207.5h0M505 196.2h0M507.2 213.1h0M509.4 228.1h0M511.6 204.4h0M513.8 200.6h0M516 133.8h0M518.2 210h0M520.4 210h0M522.6 200h0M524.7 186.2h0M526.9 191.2h0M529.1 197.5h0M531.3 197.5h0M533.5 183.5h0M535.7 126.5h0M537.9 126.5h0M540.1 76h0M542.3 174.4h0M544.5 196.2h0M546.7 203.1h0M548.9 194.4h0M551.1 194.7h0M553.3 188.1h0M555.5 189.4h0M557.7 189.8h0M559.9 188.1h0M562.1 211.2h0M564.2 218.8h0M566.4 204.4h0M568.6 186.2h0M570.8 192.5h0M573 194.9h0M575.2 200.6h0M577.4 214.4h0M579.6 218.8h0M581.8 206.2h0M584 198.8h0M586.2 197.5h0M588.4 196.6h0M590.6 202.4h0M592.8 197.4h0M595 223h0M597.2 221.8h0M599.4 201.1h0M601.6 190.5h0M603.8 189.2h0M605.9 190.5h0M608.1 196.8h0M610.3 199.9h0M612.5 201.8h0M614.7 219h0M616.9 210.2h0M619.1 198h0M621.3 181.8h0M623.5 189.9h0M625.7 184.5h0M627.9 200.9h0M630.1 204.9h0M632.3 206.5h0M634.5 203.6h0M636.7 221.1h0M638.9 218h0M641.1 207.4h0M643.3 198h0M645.4 189.2h0M647.6 186.1h0M649.8 197.4h0M652 198.6h0M654.2 201.8h0M656.4 222.8h0M658.6 210.2h0M660.8 197.4h0M663 190.5h0M665.2 188.8h0M667.4 197.4h0M669.6 198h0M671.8 199h0M674 209.2h0M676.2 221h0M678.4 215.6h0M680.6 205.9h0M682.8 197.5h0M685 189.4h0M687.1 189.5h0M689.3 193.9h0M691.5 196.4h0M693.7 200.5h0M695.9 216h0M698.1 214.1h0M700.3 190.1h0M702.5 195.1h0M704.7 174.3h0M706.9 192h0M709.1 196.4h0M711.3 201.4h0M713.5 204.2h0M715.7 208h0M717.9 212.6h0M720.1 204.2h0M722.3 204.8h0M724.5 198.9h0" fill="none" stroke="#ff0000" stroke-width="3.3" stroke-linecap="round"/>

</svg>
<div style="-webkit-text-stroke:0.35px #cfc985;position:absolute;white-space:nowrap;line-height:1;color:#cfc985;font-size:16.0px;font-weight:normal;top:377px;left:20.1px;width:200px;margin-left:-100px;text-align:center;">980</div>
<div style="position:absolute;white-space:nowrap;line-height:1;color:#ff0000;font-size:16.0px;font-weight:bold;top:377px;left:69.3px;width:200px;margin-left:-100px;text-align:center;">0.00</div>
<div style="-webkit-text-stroke:0.35px #cfc985;position:absolute;white-space:nowrap;line-height:1;color:#cfc985;font-size:16.0px;font-weight:normal;top:308px;left:20.1px;width:200px;margin-left:-100px;text-align:center;">990</div>
<div style="position:absolute;white-space:nowrap;line-height:1;color:#ff0000;font-size:16.0px;font-weight:bold;top:308px;left:69.3px;width:200px;margin-left:-100px;text-align:center;">0.02</div>
<div style="-webkit-text-stroke:0.35px #cfc985;position:absolute;white-space:nowrap;line-height:1;color:#cfc985;font-size:16.0px;font-weight:normal;top:238px;left:20.1px;width:200px;margin-left:-100px;text-align:center;">1000</div>
<div style="position:absolute;white-space:nowrap;line-height:1;color:#ff0000;font-size:16.0px;font-weight:bold;top:238px;left:69.3px;width:200px;margin-left:-100px;text-align:center;">0.04</div>
<div style="-webkit-text-stroke:0.35px #cfc985;position:absolute;white-space:nowrap;line-height:1;color:#cfc985;font-size:16.0px;font-weight:normal;top:168px;left:20.1px;width:200px;margin-left:-100px;text-align:center;">1010</div>
<div style="position:absolute;white-space:nowrap;line-height:1;color:#ff0000;font-size:16.0px;font-weight:bold;top:168px;left:69.3px;width:200px;margin-left:-100px;text-align:center;">0.06</div>
<div style="-webkit-text-stroke:0.35px #cfc985;position:absolute;white-space:nowrap;line-height:1;color:#cfc985;font-size:16.0px;font-weight:normal;top:99px;left:20.1px;width:200px;margin-left:-100px;text-align:center;">1020</div>
<div style="position:absolute;white-space:nowrap;line-height:1;color:#ff0000;font-size:16.0px;font-weight:bold;top:99px;left:69.3px;width:200px;margin-left:-100px;text-align:center;">0.08</div>
<div style="-webkit-text-stroke:0.35px #cfc985;position:absolute;white-space:nowrap;line-height:1;color:#cfc985;font-size:16.0px;font-weight:normal;top:28px;left:20.1px;width:200px;margin-left:-100px;text-align:center;">1030</div>
<div style="position:absolute;white-space:nowrap;line-height:1;color:#ff0000;font-size:16.0px;font-weight:bold;top:28px;left:69.3px;width:200px;margin-left:-100px;text-align:center;">0.10</div>
<div style="position:absolute;white-space:nowrap;line-height:1;color:#0000ff;font-size:16.0px;font-weight:bold;top:377px;left:749.6px;width:200px;margin-left:-100px;text-align:center;">0</div>
<div style="-webkit-text-stroke:0.35px #c8c8c8;position:absolute;white-space:nowrap;line-height:1;color:#c8c8c8;font-size:16.0px;font-weight:normal;top:377px;left:788.5px;width:200px;margin-left:-100px;text-align:center;">10</div>
<div style="position:absolute;white-space:nowrap;line-height:1;color:#0000ff;font-size:16.0px;font-weight:bold;top:308px;left:749.6px;width:200px;margin-left:-100px;text-align:center;">20</div>
<div style="-webkit-text-stroke:0.35px #c8c8c8;position:absolute;white-space:nowrap;line-height:1;color:#c8c8c8;font-size:16.0px;font-weight:normal;top:308px;left:788.5px;width:200px;margin-left:-100px;text-align:center;">15</div>
<div style="position:absolute;white-space:nowrap;line-height:1;color:#0000ff;font-size:16.0px;font-weight:bold;top:238px;left:749.6px;width:200px;margin-left:-100px;text-align:center;">40</div>
<div style="-webkit-text-stroke:0.35px #c8c8c8;position:absolute;white-space:nowrap;line-height:1;color:#c8c8c8;font-size:16.0px;font-weight:normal;top:238px;left:788.5px;width:200px;margin-left:-100px;text-align:center;">20</div>
<div style="position:absolute;white-space:nowrap;line-height:1;color:#0000ff;font-size:16.0px;font-weight:bold;top:168px;left:749.6px;width:200px;margin-left:-100px;text-align:center;">60</div>
<div style="-webkit-text-stroke:0.35px #c8c8c8;position:absolute;white-space:nowrap;line-height:1;color:#c8c8c8;font-size:16.0px;font-weight:normal;top:168px;left:788.5px;width:200px;margin-left:-100px;text-align:center;">25</div>
<div style="position:absolute;white-space:nowrap;line-height:1;color:#0000ff;font-size:16.0px;font-weight:bold;top:99px;left:749.6px;width:200px;margin-left:-100px;text-align:center;">80</div>
<div style="-webkit-text-stroke:0.35px #c8c8c8;position:absolute;white-space:nowrap;line-height:1;color:#c8c8c8;font-size:16.0px;font-weight:normal;top:99px;left:788.5px;width:200px;margin-left:-100px;text-align:center;">30</div>
<div style="position:absolute;white-space:nowrap;line-height:1;color:#0000ff;font-size:16.0px;font-weight:bold;top:28px;left:749.6px;width:200px;margin-left:-100px;text-align:center;">100</div>
<div style="-webkit-text-stroke:0.35px #c8c8c8;position:absolute;white-space:nowrap;line-height:1;color:#c8c8c8;font-size:16.0px;font-weight:normal;top:28px;left:788.5px;width:200px;margin-left:-100px;text-align:center;">35</div>
<div style="position:absolute;white-space:nowrap;line-height:1;color:#000;font-size:17.5px;font-weight:bold;top:395px;left:94.6px;width:200px;margin-left:-100px;text-align:center;">00:00</div>
<div style="position:absolute;white-space:nowrap;line-height:1;color:#000;font-size:17.5px;font-weight:bold;top:395px;left:173.6px;width:200px;margin-left:-100px;text-align:center;">03:00</div>
<div style="position:absolute;white-space:nowrap;line-height:1;color:#000;font-size:17.5px;font-weight:bold;top:395px;left:252.6px;width:200px;margin-left:-100px;text-align:center;">06:00</div>
<div style="position:absolute;white-space:nowrap;line-height:1;color:#000;font-size:17.5px;font-weight:bold;top:395px;left:331.6px;width:200px;margin-left:-100px;text-align:center;">09:00</div>
<div style="position:absolute;white-space:nowrap;line-height:1;color:#000;font-size:17.5px;font-weight:bold;top:395px;left:410.6px;width:200px;margin-left:-100px;text-align:center;">12:00</div>
<div style="position:absolute;white-space:nowrap;line-height:1;color:#000;font-size:17.5px;font-weight:bold;top:395px;left:489.6px;width:200px;margin-left:-100px;text-align:center;">15:00</div>
<div style="position:absolute;white-space:nowrap;line-height:1;color:#000;font-size:17.5px;font-weight:bold;top:395px;left:568.6px;width:200px;margin-left:-100px;text-align:center;">18:00</div>
<div style="position:absolute;white-space:nowrap;line-height:1;color:#000;font-size:17.5px;font-weight:bold;top:395px;left:647.6px;width:200px;margin-left:-100px;text-align:center;">21:00</div>
<div style="position:absolute;white-space:nowrap;line-height:1;color:#000;font-size:17.5px;font-weight:bold;top:395px;left:726.6px;width:200px;margin-left:-100px;text-align:center;">00:00</div>
<div style="position:absolute;white-space:nowrap;line-height:1;color:#000;font-size:17.5px;font-weight:bold;top:413.6px;left:414.6px;width:200px;margin-left:-100px;text-align:center;">Time (JST)</div>
<div style="position:absolute;white-space:nowrap;line-height:1;color:#000;font-size:17.5px;font-weight:bold;top:413.6px;left:726.9px;width:300px;margin-left:-300px;text-align:right;">2009-09-28</div>
<div style="position:absolute;white-space:nowrap;line-height:1;color:#ff0000;font-size:15.85px;font-weight:bold;top:10px;left:80.5px;"><span style="display:inline-block;width:7.2px;height:2.1px;background:currentColor;vertical-align:3.2px;margin:0 5.4px 0 0.6px"></span>Scattering Coefficient (km<span style="font-size:10px;position:relative;top:-7.5px">-1</span>)</div>
<div style="position:absolute;white-space:nowrap;line-height:1;color:#0000ff;font-size:15.85px;font-weight:bold;top:10px;left:306.5px;"><span style="display:inline-block;width:7.2px;height:2.1px;background:currentColor;vertical-align:3.2px;margin:0 5.4px 0 0.6px"></span>Relative Humidity(%)</div>
<div style="position:absolute;white-space:nowrap;line-height:1;color:#cfc985;font-size:15.85px;font-weight:bold;top:10px;left:481.5px;"><span style="display:inline-block;width:7.2px;height:2.1px;background:currentColor;vertical-align:3.2px;margin:0 5.4px 0 0.6px"></span>Pressure (hPa)</div>
<div style="-webkit-text-stroke:0.35px #c8c8c8;position:absolute;white-space:nowrap;line-height:1;color:#c8c8c8;font-size:16.9px;font-weight:normal;top:9.5px;left:611.2px;"><span style="display:inline-block;width:7.4px;height:1.9px;background:currentColor;vertical-align:3.4px;margin:0 3.8px 0 0.3px"></span>Temperature (<span style="font-size:6px;position:relative;top:-16.5px;margin:0 -1px 0 -1px">o</span>C)</div>
</div></body></html>
